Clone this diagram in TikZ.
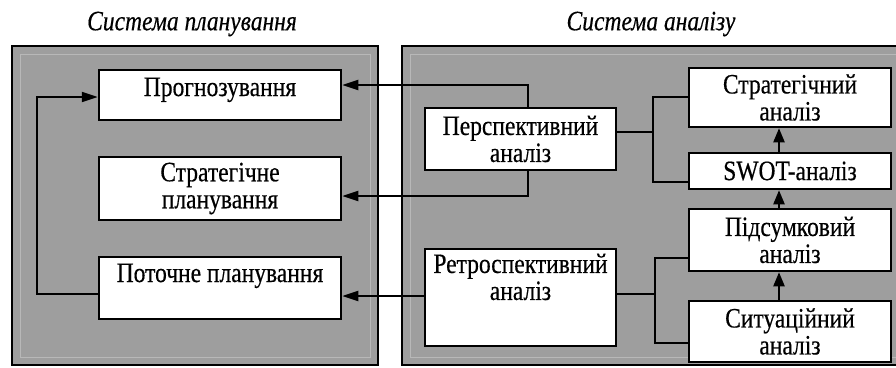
\documentclass[tikz,border=0pt]{standalone}
\usepackage{fontspec}
\setmainfont{Liberation Serif}[FakeStretch=0.84,FakeBold=0.4]
\usetikzlibrary{arrows.meta,calc}
\definecolor{panelgray}{RGB}{158,158,158}
\definecolor{rimgray}{RGB}{184,184,184}
\newcommand{\boxfont}{\fontsize{28}{27}\selectfont}
\newcommand{\titlefont}{\fontsize{28}{27}\selectfont\itshape}
\begin{document}
\begin{tikzpicture}[x=1pt,y=-1pt,
  panelfill/.style={fill=panelgray},
  panelline/.style={draw=black,line width=2.8pt},
  rim/.style={draw=rimgray,line width=0.9pt},
  box/.style={draw=black,fill=white,line width=2.5pt,inner sep=0pt,align=center,font=\boxfont},
  txt/.style={inner sep=0pt,align=center,font=\boxfont},
  title/.style={inner sep=0pt,font=\titlefont},
  conn/.style={line width=2.2pt},
  arr/.style={conn,-{Triangle[length=16pt,width=10pt]}},
  varr/.style={conn,-{Triangle[length=14pt,width=11pt]}}]
\useasboundingbox (0,0) rectangle (896,367);
% titles
\node[title] (titleL) at (192,24) {Система планування};
\node[title] (titleR) at (651,24) {Система аналізу};
% panels
\fill[panelfill] (12,46) rectangle (378,365);
\draw[rim] (20,54) rectangle (370,357);
\draw[panelline] (12,46) rectangle (378,365);
\fill[panelfill] (402,46) rectangle (896,365);
\draw[rim] (896,54) -- (410,54) -- (410,357) -- (896,357);
\draw[panelline] (897,46) -- (402,46) -- (402,365) -- (897,365);
% left boxes
\node[box,minimum width=242pt,minimum height=50pt] (prog) at (220,95) {};
\node[txt,anchor=base] (progT) at (220,96) {Прогнозування};
\node[box,minimum width=242pt,minimum height=63pt] (strat) at (220,188.5) {Стратегічне\\планування};
\node[box,minimum width=242pt,minimum height=62pt] (potoch) at (220,288) {};
\node[txt,anchor=base] (potochT) at (220,282) {Поточне планування};
% middle boxes
\node[box,minimum width=191pt,minimum height=62pt] (persp) at (520.5,139) {Перспективний\\аналіз};
\node[box,minimum width=191pt,minimum height=97pt] (retro) at (520.5,297.5) {};
\node[txt] (retroT) at (520.5,277) {Ретроспективний\\аналіз};
% right boxes
\node[box,minimum width=202pt,minimum height=59pt] (stratA) at (790,97.5) {Стратегічний\\аналіз};
\node[box,minimum width=202pt,minimum height=36pt] (swot) at (790,171) {SWOT-аналіз};
\node[box,minimum width=202pt,minimum height=62pt] (pids) at (790,240) {Підсумковий\\аналіз};
\node[box,minimum width=202pt,minimum height=61pt] (sit) at (790,331.5) {Ситуаційний\\аналіз};
% feedback loop in planning
\draw[arr] (potoch.west |- 0,294) -- (37,294) -- (37,97) -- (prog.west |- 0,97);
% analysis -> planning
\draw[arr] (528,0 |- persp.north) -- (528,85) -- (prog.east |- 0,85);
\draw[arr] (528,0 |- persp.south) -- (528,196) -- (strat.east |- 0,196);
\draw[arr] (retro.west |- 0,296) -- (potoch.east |- 0,296);
% branches
\draw[conn] (persp.east |- 0,132) -- (653,132);
\draw[conn] (stratA.west |- 0,97) -- (653,97) -- (653,182) -- (swot.west |- 0,182);
\draw[conn] (retro.east |- 0,294) -- (655,294);
\draw[conn] (pids.west |- 0,258) -- (655,258) -- (655,343) -- (sit.west |- 0,343);
% vertical arrows
\draw[varr] (779,0 |- swot.north) -- (779,0 |- stratA.south);
\draw[varr] (779,0 |- pids.north) -- (779,0 |- swot.south);
\draw[varr] (779,0 |- sit.north) -- (779,0 |- pids.south);
\end{tikzpicture}
\end{document}
